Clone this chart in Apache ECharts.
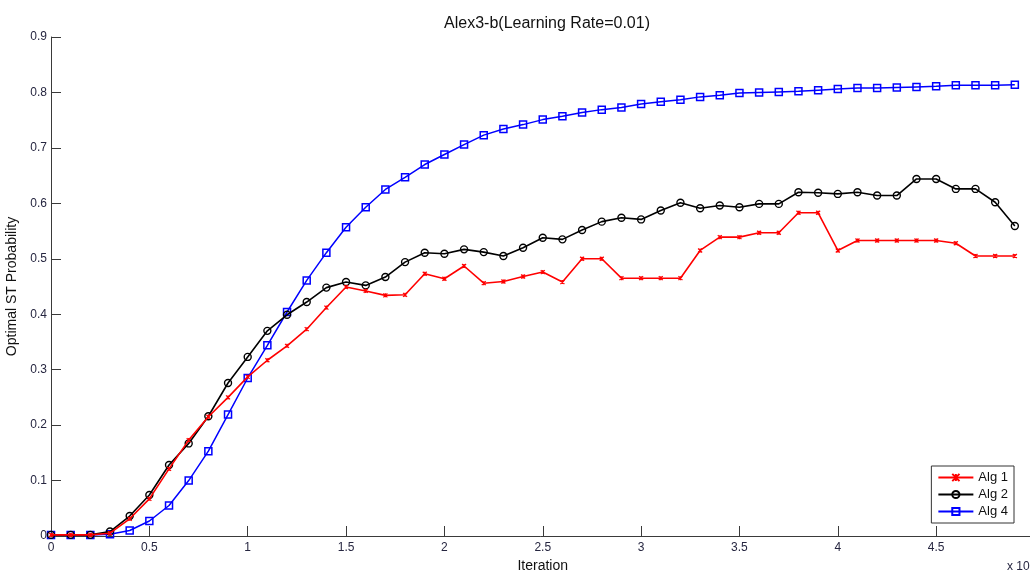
<!DOCTYPE html>
<html>
<head>
<meta charset="utf-8">
<script src="https://cdn.jsdelivr.net/npm/echarts@6/dist/echarts.min.js"></script>
<style>html,body{margin:0;padding:0;background:#fff;}#c{width:1030px;height:574px;}</style>
</head>
<body>
<div id="c"></div>
<script>
var iterations = [0,0.1,0.2,0.3,0.4,0.5,0.6,0.7,0.8,0.9,1.0,1.1,1.2,1.3,1.4,1.5,1.6,1.7,1.8,1.9,2.0,2.1,2.2,2.3,2.4,2.5,2.6,2.7,2.8,2.9,3.0,3.1,3.2,3.3,3.4,3.5,3.6,3.7,3.8,3.9,4.0,4.1,4.2,4.3,4.4,4.5,4.6,4.7,4.8,4.9];
var alg1 = [0.002,0.002,0.002,0.005,0.031,0.067,0.121,0.173,0.215,0.250,0.287,0.317,0.343,0.373,0.412,0.449,0.442,0.434,0.435,0.473,0.464,0.487,0.456,0.459,0.468,0.476,0.458,0.500,0.500,0.465,0.465,0.465,0.465,0.515,0.539,0.539,0.547,0.547,0.583,0.583,0.515,0.533,0.533,0.533,0.533,0.533,0.528,0.505,0.505,0.505];
var alg2 = [0.002,0.002,0.002,0.008,0.036,0.074,0.128,0.167,0.216,0.276,0.323,0.370,0.399,0.422,0.448,0.458,0.452,0.467,0.494,0.511,0.509,0.517,0.512,0.505,0.520,0.538,0.535,0.552,0.567,0.574,0.571,0.587,0.601,0.591,0.596,0.593,0.599,0.599,0.620,0.619,0.617,0.620,0.614,0.614,0.644,0.644,0.626,0.626,0.602,0.559];
var alg4 = [0.002,0.002,0.002,0.003,0.010,0.027,0.055,0.100,0.153,0.219,0.285,0.344,0.404,0.461,0.511,0.557,0.593,0.625,0.647,0.670,0.688,0.706,0.723,0.734,0.742,0.751,0.757,0.764,0.769,0.773,0.779,0.783,0.787,0.792,0.795,0.799,0.800,0.801,0.802,0.804,0.806,0.808,0.808,0.809,0.810,0.811,0.813,0.813,0.813,0.814];
var seriesNames = ['Alg 1','Alg 2','Alg 4'];
var yTicks = [0,0.1,0.2,0.3,0.4,0.5,0.6,0.7,0.8,0.9];
var xTicks = [0,0.5,1,1.5,2,2.5,3,3.5,4,4.5,5];

function pairs(vals){ return iterations.map(function(x,i){ return [x, vals[i]]; }); }

var font = 'Liberation Sans, Arial, sans-serif';
var axisCol = '#3a3a3a';
var chart = echarts.init(document.getElementById('c'), null, {renderer:'canvas'});
chart.setOption({
  animation:false,
  backgroundColor:'#fff',
  title:{text:'Alex3-b(Learning Rate=0.01)', left:542, textAlign:'center', top:11,
    textStyle:{fontFamily:font, fontSize:16, fontWeight:'normal', color:'#111'}},
  grid:{left:51, right:-4.5, top:37, bottom:38, containLabel:false, outerBoundsMode:'none'},
  xAxis:{type:'value', min:xTicks[0], max:xTicks[xTicks.length-1], interval:0.5,
    name:'Iteration', nameLocation:'middle', nameGap:21,
    nameTextStyle:{fontFamily:font, fontSize:14, color:'#111'},
    axisLine:{show:true, lineStyle:{color:axisCol, width:1}},
    axisTick:{show:true, inside:true, length:10, lineStyle:{color:axisCol}},
    axisLabel:{fontFamily:font, fontSize:12, color:'#262640', margin:6},
    splitLine:{show:false}},
  yAxis:{type:'value', min:yTicks[0], max:yTicks[yTicks.length-1], interval:0.1,
    name:'Optimal ST Probability', nameLocation:'middle', nameGap:24,
    nameTextStyle:{fontFamily:font, fontSize:14, color:'#111'},
    axisLine:{show:true, lineStyle:{color:axisCol, width:1}},
    axisTick:{show:true, inside:true, length:10, lineStyle:{color:axisCol}},
    axisLabel:{fontFamily:font, fontSize:12, color:'#262640', margin:4},
    splitLine:{show:false}},
  legend:{orient:'vertical', right:16, top:466, padding:[5,6,5,6], itemGap:4,
    itemWidth:35, itemHeight:9, backgroundColor:'#fff', borderColor:'#333', borderWidth:1, borderRadius:0,
    textStyle:{fontFamily:font, fontSize:13, color:'#111', lineHeight:13}, data:seriesNames},
  graphic:[{type:'text', left:1007, top:561, style:{text:'x 10', fontFamily:font, fontSize:12, fill:'#262640'}}],
  series:[
    {name:seriesNames[0], type:'line', data:pairs(alg1), symbol:'path://M0,0L10,10M10,0L0,10M5,0L5,10', symbolSize:4,
      showAllSymbol:true, lineStyle:{color:'#ff0000', width:1.6},
      itemStyle:{color:'rgba(0,0,0,0)', borderColor:'#ff0000', borderWidth:1.2}, z:3},
    {name:seriesNames[1], type:'line', data:pairs(alg2), symbol:'circle', symbolSize:7,
      showAllSymbol:true, lineStyle:{color:'#000000', width:1.6},
      itemStyle:{color:'rgba(0,0,0,0)', borderColor:'#000000', borderWidth:1.4}, z:2},
    {name:seriesNames[2], type:'line', data:pairs(alg4), symbol:'rect', symbolSize:7,
      showAllSymbol:true, lineStyle:{color:'#0000ff', width:1.5},
      itemStyle:{color:'rgba(0,0,0,0)', borderColor:'#0000ff', borderWidth:1.5}, z:1}
  ]
});
</script>
</body>
</html>
